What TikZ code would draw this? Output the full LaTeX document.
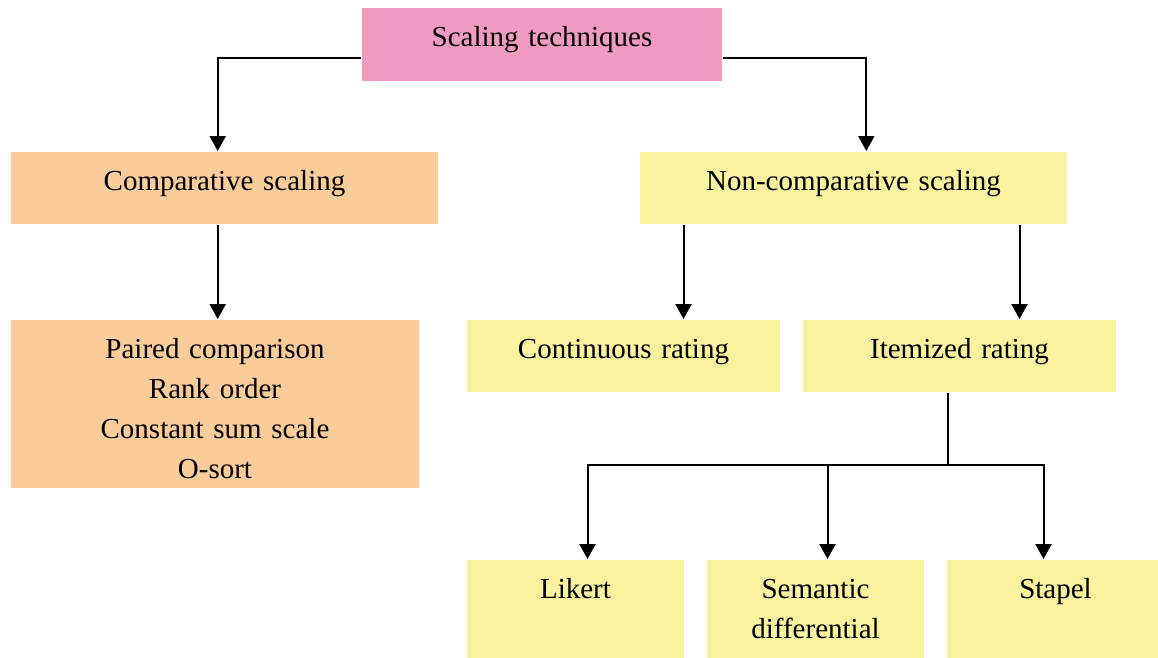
\documentclass[tikz,border=0pt]{standalone}
\usepackage{fontspec}
\setmainfont{Liberation Serif}
\usepackage{xcolor}
\usetikzlibrary{arrows.meta}

\definecolor{pinkfill}{RGB}{241,155,194}
\definecolor{orangefill}{RGB}{250,204,153}
\definecolor{yellowfill}{RGB}{249,242,158}

\begin{document}
\begin{tikzpicture}[x=1pt, y=-1pt, line width=2pt,
        box/.style = {fill=#1, inner sep=0pt, anchor=north west, align=center, text height=38pt, text depth=34pt, font=\fontsize{29}{40}\selectfont},
        arr/.style = {-{Triangle[width=16pt,length=15pt]}}]
        \useasboundingbox (0,0) rectangle (1158,657);
        \clip (0,0) rectangle (1158,657);

        \node[box=pinkfill, text width=360pt, text depth=35pt] (root) at (361,7) {Scaling techniques};
        \node[box=orangefill, text width=427pt] (comp) at (10,151) {Comparative scaling};
        \node[box=yellowfill, text width=427pt] (noncomp) at (639,151) {Non-comparative scaling};
        \node[box=orangefill, text width=408pt, text depth=130pt] (lists) at (10,319) {Paired comparison\\Rank order\\Constant sum scale\\O-sort};
        \node[box=yellowfill, text width=313pt] (cont) at (466,319) {Continuous rating};
        \node[box=yellowfill, text width=313pt] (item) at (802,319) {Itemized rating};
        \node[box=yellowfill, text width=217pt, text depth=60pt] (likert) at (466,559) {Likert};
        \node[box=yellowfill, text width=217pt, text depth=60pt] (sem) at (706,559) {Semantic\\differential};
        \node[box=yellowfill, text width=217pt, text depth=60pt] (stapel) at (946,559) {Stapel};
        \coordinate (split) at ([xshift=-12pt, yshift=-72pt]item.south);

        \draw[arr] ([yshift=24.5pt]root.south west) -| ([xshift=-6.8pt]comp.north);
        \draw[arr] ([yshift=24.5pt]root.south east) -| ([xshift=12.8pt]noncomp.north);
        \draw[arr] ([xshift=-6.8pt]comp.south) -- ([xshift=-6.8pt]comp.south |- lists.north);
        \draw[arr] ([xshift=60pt]cont.north |- noncomp.south) -- ([xshift=60pt]cont.north);
        \draw[arr] ([xshift=60pt]item.north |- noncomp.south) -- ([xshift=60pt]item.north);
        \draw ([xshift=-12pt]item.south) -- (split);
        \draw[arr] (split) -| ([xshift=12pt]likert.north);
        \draw[arr] (split) -| ([xshift=12pt]sem.north);
        \draw[arr] (split) -| ([xshift=-12pt]stapel.north);
    \end{tikzpicture}
\end{document}
